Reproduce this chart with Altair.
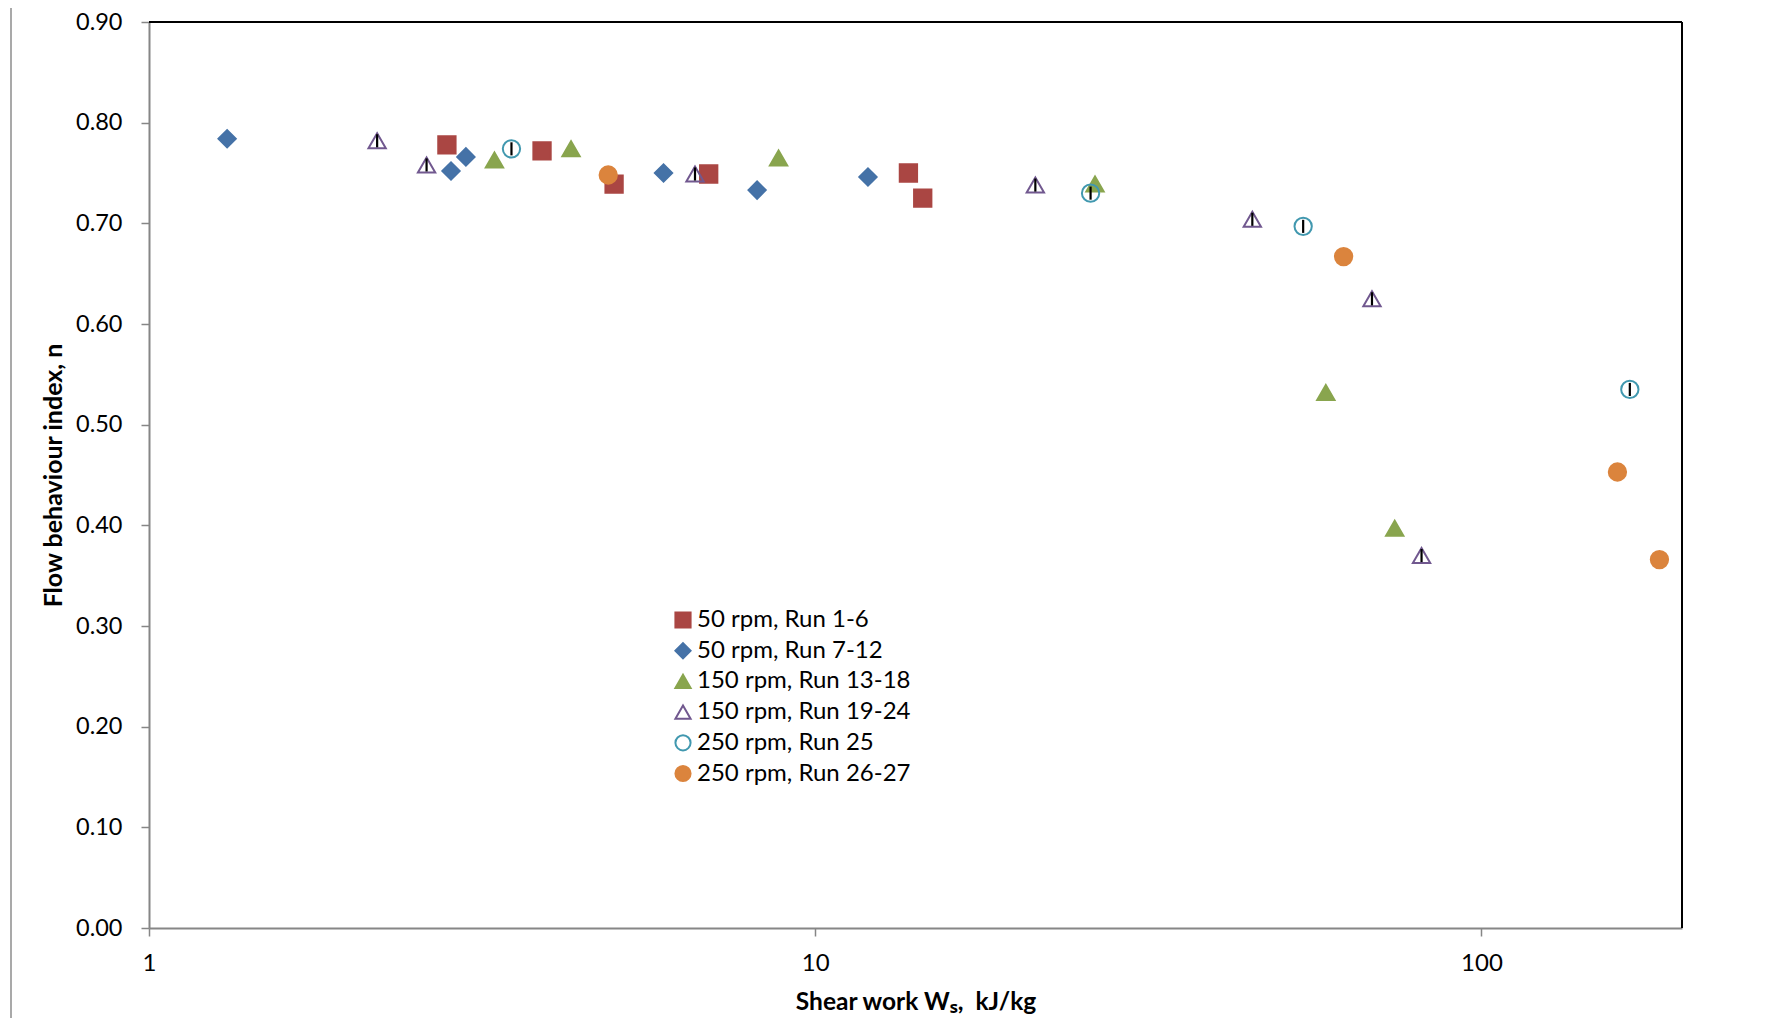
import altair as alt
import pandas as pd

# ---- data ----
series_names = [
    "50 rpm, Run 1-6",
    "50 rpm, Run 7-12",
    "150 rpm, Run 13-18",
    "150 rpm, Run 19-24",
    "250 rpm, Run 25",
    "250 rpm, Run 26-27",
]
ws_run1_6 = [2.80, 3.89, 4.99, 6.92, 13.8, 14.5]
n_run1_6 = [0.778, 0.772, 0.739, 0.749, 0.750, 0.725]

ws_run7_12 = [1.31, 2.84, 2.99, 5.92, 8.18, 12.0]
n_run7_12 = [0.784, 0.752, 0.766, 0.750, 0.733, 0.746]

ws_run13_18 = [3.30, 4.30, 8.81, 26.3, 58.4, 74.1]
n_run13_18 = [0.763, 0.774, 0.765, 0.739, 0.532, 0.397]

ws_run19_24 = [2.20, 2.61, 6.60, 21.4, 45.3, 68.5, 81.3]
n_run19_24 = [0.782, 0.758, 0.749, 0.738, 0.704, 0.625, 0.370]

ws_run25 = [3.50, 25.9, 54.0, 167.0]
n_run25 = [0.774, 0.730, 0.697, 0.535]

ws_run26_27 = [4.89, 62.1, 160.0, 185.0]
n_run26_27 = [0.748, 0.667, 0.453, 0.366]

# small y error bars drawn on the open-marker series
err_run19_24 = [0.0065] * len(ws_run19_24)
err_run25 = [0.0065] * len(ws_run25)

colors = ["#AA4643", "#4572A7", "#89A54E", "#71588F", "#4198AF", "#DB843D"]
fills = ["#AA4643", "#4572A7", "#89A54E", "transparent", "transparent", "#DB843D"]
shapes = ["square", "diamond", "triangle-up", "triangle-up", "circle", "circle"]

x_ticks = [1, 10, 100]
y_ticks = [0.0, 0.1, 0.2, 0.3, 0.4, 0.5, 0.6, 0.7, 0.8, 0.9]

rows = []
for name, xs, ys in zip(series_names,
                        [ws_run1_6, ws_run7_12, ws_run13_18, ws_run19_24, ws_run25, ws_run26_27],
                        [n_run1_6, n_run7_12, n_run13_18, n_run19_24, n_run25, n_run26_27]):
    for x, y in zip(xs, ys):
        rows.append({"series": name, "ws": x, "n": y})
df = pd.DataFrame(rows)
df["idx"] = range(len(df))

err_rows = []
for name, xs, ys, es in [(series_names[3], ws_run19_24, n_run19_24, err_run19_24),
                         (series_names[4], ws_run25, n_run25, err_run25)]:
    for x, y, e in zip(xs, ys, es):
        err_rows.append({"series": name, "ws": x, "lo": y - e, "hi": y + e})
df_err = pd.DataFrame(err_rows)

W, H = 1533, 906
GRAY = "#868686"

xscale = alt.Scale(type="log", domain=[1, 200], nice=False)
yscale = alt.Scale(domain=[0, 0.9], nice=False, zero=True)

points = alt.Chart(df).mark_point(size=300, strokeWidth=2, opacity=1, fillOpacity=1).encode(
    x=alt.X("ws:Q", scale=xscale,
            axis=alt.Axis(values=x_ticks, format="d",
                          title="Shear work Wₛ,\u00a0\u00a0kJ/kg",
                          grid=False, domainColor=GRAY, domainWidth=2,
                          tickColor=GRAY, tickWidth=1.5, tickSize=8,
                          labelFont="Lato", labelFontSize=24, labelFlush=False,
                          labelColor="#000000", labelPadding=15,
                          titleFont="Lato", titleFontSize=24.5,
                          titleFontWeight="bold", titleColor="#000000",
                          titleBaseline="middle", titleY=74)),
    y=alt.Y("n:Q", scale=yscale,
            axis=alt.Axis(values=y_ticks, format=".2f", title="Flow behaviour index, n",
                          grid=False, domainColor=GRAY, domainWidth=2,
                          tickColor=GRAY, tickWidth=1.5, tickSize=8,
                          labelFont="Lato", labelFontSize=23.5, labelColor="#000000",
                          labelPadding=19, labelFlush=False,
                          titleFont="Lato", titleFontSize=25, titleFontWeight="bold",
                          titleColor="#000000", titleBaseline="middle", titleX=-96)),
    stroke=alt.Stroke("series:N", scale=alt.Scale(domain=series_names, range=colors),
                      legend=alt.Legend(title=None)),
    fill=alt.Fill("series:N", scale=alt.Scale(domain=series_names, range=fills),
                  legend=alt.Legend(title=None)),
    shape=alt.Shape("series:N", scale=alt.Scale(domain=series_names, range=shapes),
                    legend=alt.Legend(title=None)),
    order=alt.Order("idx:Q"),
)

bars = alt.Chart(df_err).mark_rule(color="#000000", strokeWidth=2.2).encode(
    x=alt.X("ws:Q", scale=xscale),
    y=alt.Y("lo:Q", scale=yscale),
    y2="hi:Q",
)

frame_df = pd.DataFrame({"k": [0]})
top_line = alt.Chart(frame_df).mark_rule(color="#000000", strokeWidth=2).encode(
    x=alt.value(0), x2=alt.value(W), y=alt.value(0))
right_line = alt.Chart(frame_df).mark_rule(color="#000000", strokeWidth=2).encode(
    x=alt.value(W), y=alt.value(0), y2=alt.value(H))
outer_left = alt.Chart(frame_df).mark_rule(color="#8c8c8c", strokeWidth=1.5).encode(
    x=alt.value(-138), y=alt.value(-17.5), y2=alt.value(H + 120))
outer_top = alt.Chart(frame_df).mark_rule(color="#8c8c8c", strokeWidth=1.5).encode(
    x=alt.value(-138), x2=alt.value(W + 200), y=alt.value(-17.5))

chart = alt.layer(points, bars, top_line, right_line, outer_left, outer_top).properties(
    width=W, height=H,
    autosize=alt.AutoSizeParams(type="none"),
    padding={"left": 141, "top": 14, "right": 60, "bottom": 90},
).configure_view(stroke=None).configure_legend(
    orient="none", legendX=522, legendY=586,
    labelFont="Lato", labelFontSize=24, labelColor="#000000", labelLimit=500,
    symbolSize=230, symbolStrokeWidth=2, rowPadding=6.7, labelOffset=2,
    padding=0,
)

chart.save("out.html", embed_options={"renderer": "svg", "actions": False})
